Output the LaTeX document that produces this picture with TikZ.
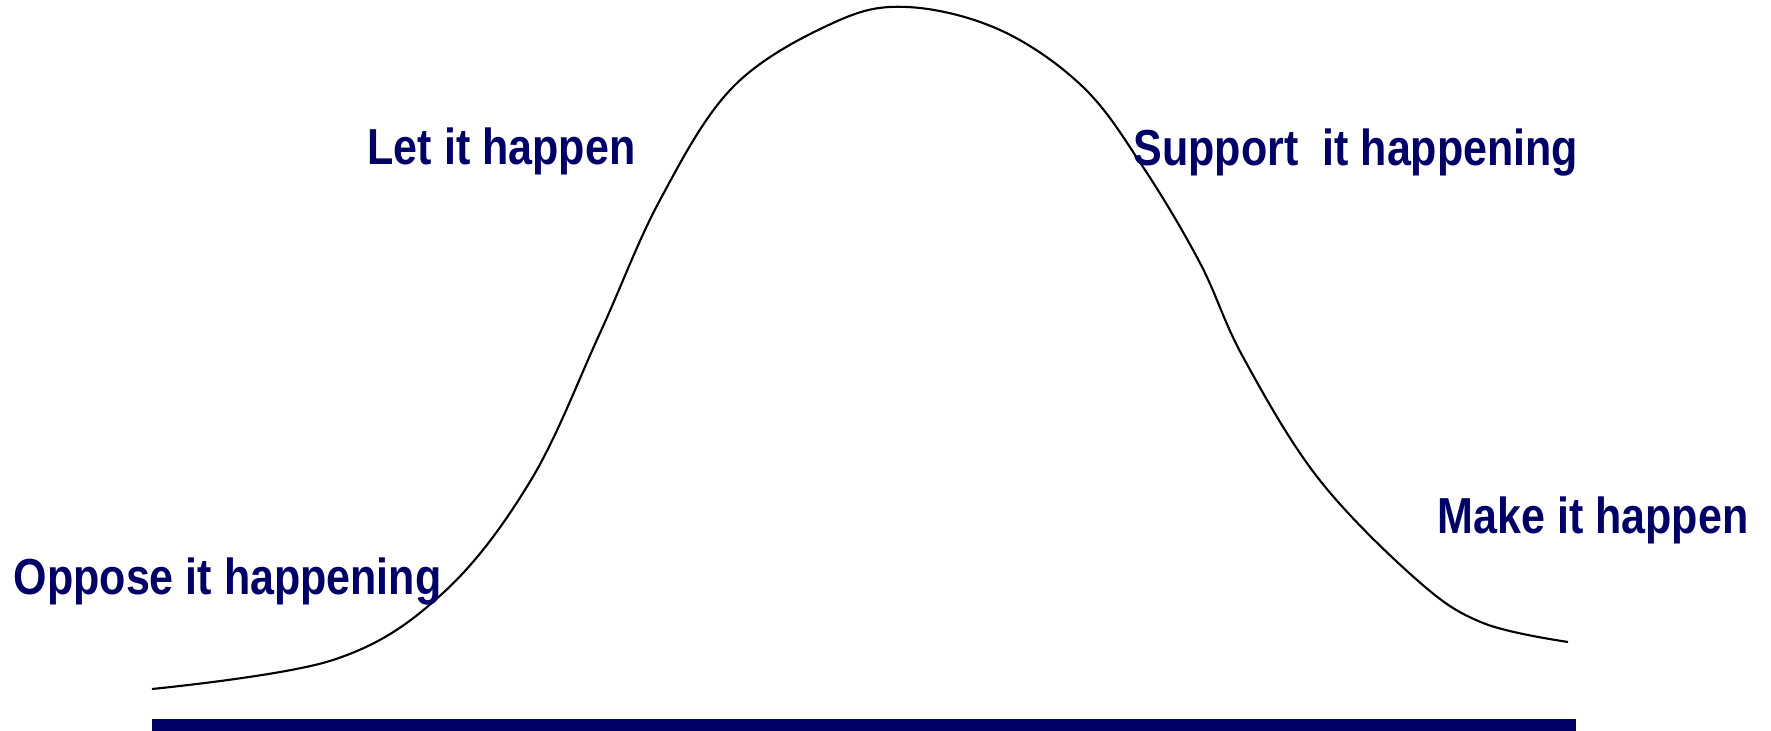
\documentclass[tikz,border=0pt]{standalone}
\usepackage{fontspec}
\newfontfamily\lblfont{Liberation Sans}[FakeStretch=0.85,BoldFont={Liberation Sans Bold}]
\definecolor{navy}{RGB}{0,0,102}
\tikzset{
  lbl/.style={anchor=base west, inner sep=0pt, text=navy, font=\lblfont\bfseries\fontsize{14.4}{17}\selectfont},
  curve/.style={line width=0.6pt, black}
}
\begin{document}
\begin{tikzpicture}[x=0.1mm,y=-0.1mm]
\useasboundingbox (0,0) rectangle (1771,731);
\fill[navy] (152,719) rectangle (1576,731);
\draw[curve] plot[smooth, tension=0.6] coordinates {
(152,689) (333,660) (443,593) (531,480) (600,333) (660,200) (733,87)
(833,23) (907,7) (1000,30) (1083,87) (1143,167) (1200,263) (1243,357)
(1318,478) (1417,580) (1483,623) (1568,642)};
\node[lbl] (oppose) at (13,595) {Oppose it happening};
\node[lbl] (let) at (367,165) {Let it happen};
\node[lbl] (support) at (1133,166) {Support\ \ it happening};
\node[lbl] (make) at (1437,534) {Make it happen};
\end{tikzpicture}
\end{document}
